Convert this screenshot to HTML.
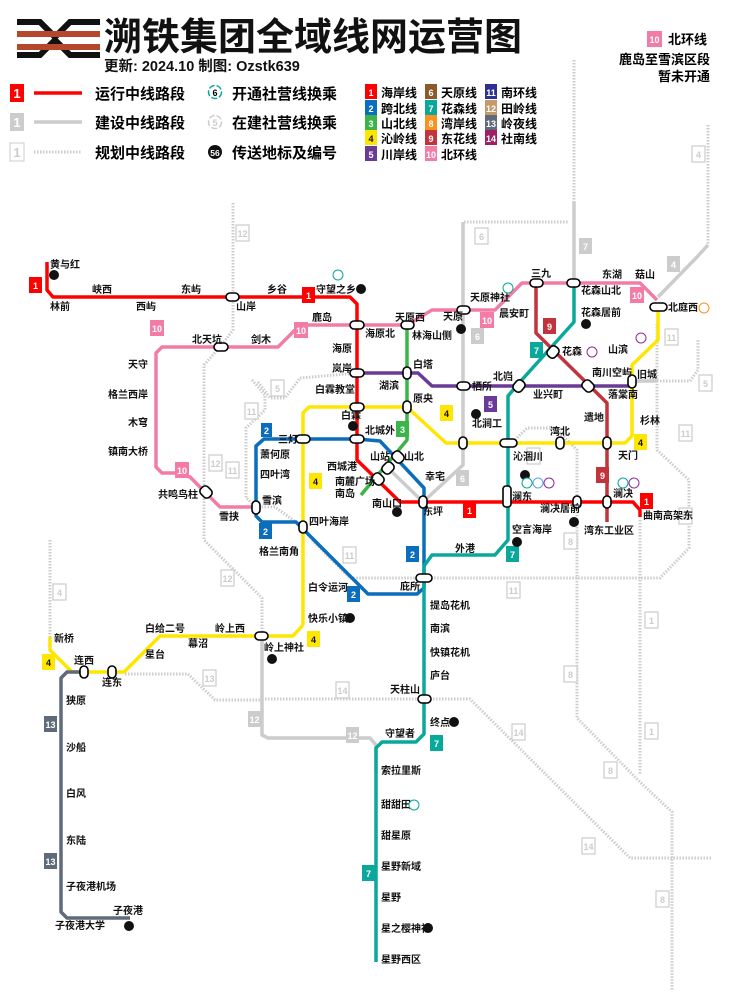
<!DOCTYPE html>
<html><head><meta charset="utf-8"><style>
body{margin:0;background:#fff}
svg{display:block}
text{font-family:"Liberation Sans","Noto Sans CJK SC",sans-serif;font-weight:bold}
.t{font-size:10px;fill:#111}
.r{text-anchor:end}
.m{text-anchor:middle}
.b{font-size:9px;fill:#fff;text-anchor:middle}
.ln{fill:none;stroke-width:3.5;stroke-linejoin:round;stroke-linecap:butt}
.dt{fill:none;stroke:#ccc;stroke-width:3;stroke-dasharray:1.5 1.5}
.cg{fill:none;stroke:#ccc;stroke-width:3.5}
.nd{fill:#fff;stroke:#000;stroke-width:1.6}
.gb{fill:#fff;stroke:#ccc;stroke-width:1.2}
.gt{font-size:9px;fill:#ccc;text-anchor:middle}
</style></head><body>
<svg width="750" height="1000" viewBox="0 0 750 1000" xmlns="http://www.w3.org/2000/svg">
<!-- logo -->
<g>
<path d="M17 22 L40 22 L55 37 L70 22 L100 22" stroke="#111" stroke-width="6" fill="none"/>
<path d="M17 55 L40 55 L55 40 L70 55 L100 55" stroke="#111" stroke-width="6" fill="none"/>
<rect x="17" y="31" width="83" height="6" fill="#b5472a"/>
<rect x="17" y="44" width="83" height="6" fill="#b5472a"/>
</g>
<text x="104" y="50" style="font-size:38px;fill:#111">溯铁集团全域线网运营图</text>
<text x="104" y="71" style="font-size:14.5px;fill:#111">更新: 2024.10 制图: Ozstk639</text>
<!-- legend -->
<rect x="10" y="84" width="14" height="18" fill="#f00"/><text x="17" y="98" class="b" style="font-size:13px">1</text>
<line x1="34" y1="93" x2="82" y2="93" stroke="#f00" stroke-width="3.5"/>
<text x="95" y="99" style="font-size:15px">运行中线路段</text>
<rect x="10" y="113" width="14" height="18" fill="#ccc"/><text x="17" y="127" class="b" style="font-size:13px">1</text>
<line x1="34" y1="122" x2="82" y2="122" stroke="#ccc" stroke-width="3.5"/>
<text x="95" y="128" style="font-size:15px">建设中线路段</text>
<rect x="10" y="143" width="14" height="18" fill="#fff" stroke="#ccc"/><text x="17" y="157" style="font-size:13px;fill:#ccc;text-anchor:middle">1</text>
<line x1="34" y1="152" x2="82" y2="152" class="dt"/>
<text x="95" y="158" style="font-size:15px">规划中线路段</text>
<circle cx="215" cy="92" r="6.5" fill="#fff" stroke="#0aa89a" stroke-width="1.5" stroke-dasharray="6 2"/><text x="215" y="96" class="m" style="font-size:9px">6</text>
<text x="232" y="99" style="font-size:15px">开通社营线换乘</text>
<circle cx="215" cy="122" r="6.5" fill="#fff" stroke="#ccc" stroke-width="1.5" stroke-dasharray="6 2"/><text x="215" y="126" class="m" style="font-size:9px;fill:#ccc">5</text>
<text x="232" y="128" style="font-size:15px">在建社营线换乘</text>
<circle cx="215" cy="152" r="7" fill="#111"/><text x="215" y="156" class="b" style="font-size:8.5px">56</text>
<text x="232" y="158" style="font-size:15px">传送地标及编号</text>
<g style="font-size:12px">
<rect x="365" y="84" width="12" height="15" fill="#f00"/><text x="371" y="96" class="b">1</text><text x="381" y="97" style="font-size:12px">海岸线</text>
<rect x="365" y="100" width="12" height="15" fill="#0a6ebd"/><text x="371" y="112" class="b">2</text><text x="381" y="113" style="font-size:12px">跨北线</text>
<rect x="365" y="115" width="12" height="15" fill="#3bb54a"/><text x="371" y="127" class="b">3</text><text x="381" y="128" style="font-size:12px">山北线</text>
<rect x="365" y="130" width="12" height="15" fill="#ffe600"/><text x="371" y="142" class="b" style="fill:#111">4</text><text x="381" y="143" style="font-size:12px">沁岭线</text>
<rect x="365" y="146" width="12" height="15" fill="#6a3b96"/><text x="371" y="158" class="b">5</text><text x="381" y="159" style="font-size:12px">川岸线</text>
<rect x="425" y="84" width="12" height="15" fill="#8b5a2b"/><text x="431" y="96" class="b">6</text><text x="441" y="97" style="font-size:12px">天原线</text>
<rect x="425" y="100" width="12" height="15" fill="#0aa89a"/><text x="431" y="112" class="b">7</text><text x="441" y="113" style="font-size:12px">花森线</text>
<rect x="425" y="115" width="12" height="15" fill="#f7931e"/><text x="431" y="127" class="b">8</text><text x="441" y="128" style="font-size:12px">湾岸线</text>
<rect x="425" y="130" width="12" height="15" fill="#c1343c"/><text x="431" y="142" class="b">9</text><text x="441" y="143" style="font-size:12px">东花线</text>
<rect x="425" y="146" width="12" height="15" fill="#f37ca6"/><text x="431" y="158" class="b">10</text><text x="441" y="159" style="font-size:12px">北环线</text>
<rect x="485" y="84" width="12" height="15" fill="#2e3192"/><text x="491" y="96" class="b">11</text><text x="501" y="97" style="font-size:12px">南环线</text>
<rect x="485" y="100" width="12" height="15" fill="#c49a6c"/><text x="491" y="112" class="b">12</text><text x="501" y="113" style="font-size:12px">田岭线</text>
<rect x="485" y="115" width="12" height="15" fill="#5f6b7a"/><text x="491" y="127" class="b">13</text><text x="501" y="128" style="font-size:12px">岭夜线</text>
<rect x="485" y="130" width="12" height="15" fill="#9e1f63"/><text x="491" y="142" class="b">14</text><text x="501" y="143" style="font-size:12px">社南线</text>
</g>
<rect x="647" y="31" width="15" height="16" fill="#f37ca6"/><text x="654.5" y="43" class="b">10</text>
<text x="668" y="44" style="font-size:13px">北环线</text>
<text x="710" y="64" class="r" style="font-size:13px">鹿岛至雪滨区段</text>
<text x="710" y="81" class="r" style="font-size:13px">暂未开通</text>

<!-- planned dotted -->
<polyline class="dt" points="233,203 233,330 220,347 204,365 204,540 262,598 262,636"/>
<polyline class="dt" points="574,60 574,202"/>
<polyline class="dt" points="463,290 463,222 568,222"/>
<polyline class="dt" points="708,125 708,245"/>
<polyline class="dt" points="50,540 50,637"/>
<polyline class="dt" points="252,380 265,395 265,410 246,428 246,498 256,507 275,507 300,525"/>
<polyline class="dt" points="258,382 270,398 285,398 300,378 357,373"/>
<polyline class="dt" points="312,540 350,578 660,578 689,548 689,480 657,450 657,322"/>
<polyline class="dt" points="657,381 690,381 698,370 698,340"/>
<polyline class="dt" points="515,440 527,428 555,428 577,450 577,718 640,782 672,812 672,990"/>
<polyline class="dt" points="640,520 640,775"/>
<polyline class="dt" points="265,699 470,699 630,858 712,858"/>
<polyline class="dt" points="125,674 188,674 215,700 262,700"/>
<!-- construction solid gray -->
<polyline class="cg" points="463,222 463,465 423,502"/>
<polyline class="cg" points="388,468 423,502"/>
<polyline class="cg" points="574,202 574,283"/>
<polyline class="cg" points="658,297 697,257 708,245"/>
<polyline class="cg" points="632,381 657,381"/>
<polyline class="cg" points="262,636 262,735 268,738 370,738 376,745 376,773"/>
<!-- operating lines -->
<polyline class="ln" stroke="#f37ca6" points="205,492 190,477 175,473 162,473 156,467 156,353 162,347 278,347 300,325 407,325 432,310 495,310 522,283 640,283 657,300"/>
<polyline class="ln" stroke="#f37ca6" points="205,492 220,507 256,507"/>
<polyline class="ln" stroke="#f00" points="47,262 47,290 53,297 350,297 357,304 357,460 400,502 633,502 640,510 640,517"/>
<polyline class="ln" stroke="#0a6ebd" points="303,439 264,439 256,446 256,516 262,522 296,522 368,594 417,594 424,588 424,578 424,488 380,441 357,439 303,439"/>
<polyline class="ln" stroke="#3bb54a" points="407,325 407,440 361,495"/>
<polyline class="ln" stroke="#6a3b96" points="357,373 418,373 432,386 632,386"/>
<polyline class="ln" stroke="#ffe600" points="303,625 303,413 309,407 407,407 446,443 625,443 632,436 632,365 658,340 658,307"/>
<polyline class="ln" stroke="#ffe600" points="303,625 293,636 160,636 124,672 72,672 50,650 50,637"/>
<polyline class="ln" stroke="#0aa89a" points="574,283 574,322 519,383 508,396 508,540 495,555 432,555 424,566 424,734 416,742 382,742 376,748 376,962"/>
<polyline class="ln" stroke="#c1343c" points="536,283 536,333 607,403 607,522"/>
<polyline class="ln" stroke="#5f6b7a" points="84,672 67,672 61,678 61,912 67,918 130,918"/>

<!-- interchange nodes -->
<g class="nd">
<rect x="226" y="293" width="13" height="8" rx="4"/><rect x="350" y="321" width="14" height="8" rx="4"/><rect x="401" y="321" width="13" height="8" rx="4"/>
<rect x="457" y="306" width="13" height="8" rx="4"/><rect x="530" y="279" width="13" height="8" rx="4"/><rect x="567" y="279" width="13" height="8" rx="4"/>
<rect x="650" y="303" width="17" height="8" rx="4"/><rect x="214" y="343" width="14" height="8" rx="4"/>
<rect x="350" y="369" width="14" height="8" rx="4"/><rect x="403" y="367" width="8" height="12" rx="4"/>
<rect x="457" y="382" width="13" height="8" rx="4"/><rect x="514" y="380" width="10" height="12" rx="4" transform="rotate(40 519 386)"/>
<rect x="583" y="380" width="10" height="12" rx="4" transform="rotate(-45 588 386)"/><rect x="628" y="375" width="8" height="13" rx="4"/>
<rect x="548" y="346" width="10" height="12" rx="4" transform="rotate(40 553 352)"/>
<rect x="350" y="403" width="14" height="8" rx="4"/><rect x="403" y="401" width="8" height="12" rx="4"/>
<rect x="296" y="435" width="14" height="8" rx="4"/><rect x="350" y="435" width="14" height="8" rx="4"/>
<rect x="459" y="437" width="8" height="12" rx="4"/><rect x="500" y="439" width="17" height="8" rx="4"/>
<rect x="556" y="437" width="8" height="12" rx="4"/><rect x="603" y="437" width="8" height="12" rx="4"/>
<rect x="393" y="451" width="10" height="12" rx="4" transform="rotate(-45 398 457)"/><rect x="383" y="462" width="10" height="12" rx="4" transform="rotate(45 388 468)"/>
<rect x="373" y="473" width="10" height="12" rx="4" transform="rotate(-45 378 479)"/>
<rect x="201" y="486" width="10" height="12" rx="4" transform="rotate(-45 206 492)"/>
<rect x="252" y="501" width="8" height="13" rx="4"/><rect x="419" y="496" width="8" height="12" rx="4"/>
<rect x="503" y="486" width="8" height="21" rx="3"/><rect x="573" y="496" width="8" height="12" rx="4"/><rect x="603" y="496" width="8" height="12" rx="4"/>
<rect x="299" y="521" width="8" height="12" rx="4"/><rect x="416" y="574" width="16" height="8" rx="4"/>
<rect x="255" y="632" width="13" height="8" rx="4"/><rect x="80" y="666" width="8" height="12" rx="4"/><rect x="108" y="666" width="8" height="12" rx="4"/>
<rect x="418" y="695" width="13" height="8" rx="4"/>
</g>

<!-- line badges -->
<g>
<rect x="29" y="277" width="13" height="16" fill="#f00"/><text x="35.5" y="289" class="b">1</text>
<rect x="302" y="287" width="13" height="16" fill="#f00"/><text x="308.5" y="299" class="b">1</text>
<rect x="480" y="312" width="14" height="16" fill="#f37ca6"/><text x="487" y="324" class="b">10</text>
<rect x="150" y="320" width="14" height="16" fill="#f37ca6"/><text x="157" y="332" class="b">10</text>
<rect x="294" y="322" width="14" height="16" fill="#f37ca6"/><text x="301" y="334" class="b">10</text>
<rect x="175" y="462" width="14" height="16" fill="#f37ca6"/><text x="182" y="474" class="b">10</text>
<rect x="630" y="287" width="14" height="16" fill="#f37ca6"/><text x="637" y="299" class="b">10</text>
<rect x="543" y="318" width="13" height="16" fill="#c1343c"/><text x="549.5" y="330" class="b">9</text>
<rect x="596" y="467" width="13" height="16" fill="#c1343c"/><text x="602.5" y="479" class="b">9</text>
<rect x="530" y="342" width="13" height="16" fill="#0aa89a"/><text x="536.5" y="354" class="b">7</text>
<rect x="506" y="546" width="13" height="16" fill="#0aa89a"/><text x="512.5" y="558" class="b">7</text>
<rect x="430" y="735" width="13" height="16" fill="#0aa89a"/><text x="436.5" y="747" class="b">7</text>
<rect x="362" y="865" width="13" height="16" fill="#0aa89a"/><text x="368.5" y="877" class="b">7</text>
<rect x="484" y="396" width="13" height="16" fill="#6a3b96"/><text x="490.5" y="408" class="b">5</text>
<rect x="440" y="405" width="13" height="16" fill="#ffe600"/><text x="446.5" y="417" class="b" style="fill:#111">4</text>
<rect x="634" y="434" width="13" height="16" fill="#ffe600"/><text x="640.5" y="446" class="b" style="fill:#111">4</text>
<rect x="309" y="473" width="13" height="16" fill="#ffe600"/><text x="315.5" y="485" class="b" style="fill:#111">4</text>
<rect x="307" y="631" width="13" height="16" fill="#ffe600"/><text x="313.5" y="643" class="b" style="fill:#111">4</text>
<rect x="42" y="654" width="13" height="16" fill="#ffe600"/><text x="48.5" y="666" class="b" style="fill:#111">4</text>
<rect x="396" y="421" width="13" height="16" fill="#3bb54a"/><text x="402.5" y="433" class="b">3</text>
<rect x="261" y="423" width="11" height="14" fill="#0a6ebd"/><text x="266.5" y="434" class="b">2</text>
<rect x="259" y="523" width="13" height="16" fill="#0a6ebd"/><text x="265.5" y="535" class="b">2</text>
<rect x="347" y="586" width="13" height="16" fill="#0a6ebd"/><text x="353.5" y="598" class="b">2</text>
<rect x="406" y="546" width="13" height="16" fill="#0a6ebd"/><text x="412.5" y="558" class="b">2</text>
<rect x="463" y="502" width="13" height="16" fill="#f00"/><text x="469.5" y="514" class="b">1</text>
<rect x="640" y="493" width="13" height="16" fill="#f00"/><text x="646.5" y="505" class="b">1</text>
<rect x="44" y="716" width="13" height="16" fill="#5f6b7a"/><text x="50.5" y="728" class="b">13</text>
<rect x="44" y="853" width="13" height="16" fill="#5f6b7a"/><text x="50.5" y="865" class="b">13</text>
</g>
<!-- gray planned badges -->
<g>
<rect x="236" y="225" width="13" height="16" class="gb"/><text x="242.5" y="237" class="gt">12</text>
<rect x="475" y="228" width="13" height="16" class="gb"/><text x="481.5" y="240" class="gt">6</text>
<rect x="579" y="238" width="13" height="16" fill="#ccc"/><text x="585.5" y="250" class="b">7</text>
<rect x="692" y="146" width="13" height="16" class="gb"/><text x="698.5" y="158" class="gt">4</text>
<rect x="667" y="256" width="13" height="16" fill="#ccc"/><text x="673.5" y="268" class="b">4</text>
<rect x="471" y="328" width="13" height="16" fill="#ccc"/><text x="477.5" y="340" class="b">6</text>
<rect x="456" y="470" width="13" height="16" fill="#ccc"/><text x="462.5" y="482" class="b">6</text>
<rect x="271" y="380" width="13" height="16" class="gb"/><text x="277.5" y="392" class="gt">5</text>
<rect x="245" y="403" width="13" height="16" class="gb"/><text x="251.5" y="415" class="gt">11</text>
<rect x="209" y="455" width="13" height="16" class="gb"/><text x="215.5" y="467" class="gt">12</text>
<rect x="226" y="462" width="13" height="16" class="gb"/><text x="232.5" y="474" class="gt">11</text>
<rect x="527" y="448" width="13" height="16" class="gb"/><text x="533.5" y="460" class="gt">8</text>
<rect x="665" y="329" width="13" height="16" class="gb"/><text x="671.5" y="341" class="gt">11</text>
<rect x="699" y="375" width="13" height="16" class="gb"/><text x="705.5" y="387" class="gt">5</text>
<rect x="679" y="425" width="13" height="16" class="gb"/><text x="685.5" y="437" class="gt">11</text>
<rect x="343" y="547" width="13" height="16" class="gb"/><text x="349.5" y="559" class="gt">11</text>
<rect x="221" y="570" width="13" height="16" class="gb"/><text x="227.5" y="582" class="gt">12</text>
<rect x="564" y="533" width="13" height="16" class="gb"/><text x="570.5" y="545" class="gt">8</text>
<rect x="507" y="582" width="13" height="16" class="gb"/><text x="513.5" y="594" class="gt">11</text>
<rect x="679" y="508" width="13" height="16" class="gb"/><text x="685.5" y="520" class="gt">11</text>
<rect x="645" y="612" width="13" height="16" class="gb"/><text x="651.5" y="624" class="gt">1</text>
<rect x="564" y="666" width="13" height="16" class="gb"/><text x="570.5" y="678" class="gt">8</text>
<rect x="53" y="584" width="13" height="16" class="gb"/><text x="59.5" y="596" class="gt">4</text>
<rect x="203" y="670" width="13" height="16" class="gb"/><text x="209.5" y="682" class="gt">13</text>
<rect x="336" y="682" width="13" height="16" class="gb"/><text x="342.5" y="694" class="gt">14</text>
<rect x="248" y="711" width="13" height="16" fill="#ccc"/><text x="254.5" y="723" class="b">12</text>
<rect x="346" y="727" width="13" height="16" fill="#ccc"/><text x="352.5" y="739" class="b">12</text>
<rect x="512" y="724" width="13" height="16" class="gb"/><text x="518.5" y="736" class="gt">14</text>
<rect x="645" y="723" width="13" height="16" class="gb"/><text x="651.5" y="735" class="gt">1</text>
<rect x="604" y="762" width="13" height="16" class="gb"/><text x="610.5" y="774" class="gt">8</text>
<rect x="582" y="838" width="13" height="16" class="gb"/><text x="588.5" y="850" class="gt">14</text>
<rect x="656" y="891" width="13" height="16" class="gb"/><text x="662.5" y="903" class="gt">8</text>
</g>

<!-- station labels -->
<g class="t">
<text x="50" y="268">黄与红</text><circle cx="54" cy="275" r="5" fill="#111"/>
<text x="50" y="310">林前</text><text x="102" y="293" class="m">峡西</text><text x="146" y="310" class="m">西屿</text>
<text x="191" y="293" class="m">东屿</text><text x="246" y="310" class="m">山岸</text><text x="277" y="293" class="m">乡谷</text>
<text x="316" y="293">守望之乡</text><circle cx="361" cy="289" r="5" fill="#111"/><circle cx="338" cy="275" r="5" fill="#fff" stroke="#0aa89a"/>
<text x="322" y="321" class="m">鹿岛</text><text x="365" y="337">海原北</text>
<text x="410" y="321" class="m">天原西</text><text x="453" y="320" class="m">天原</text><circle cx="461" cy="329" r="5" fill="#111"/>
<text x="470" y="301">天原神社</text><circle cx="508" cy="288" r="5" fill="#fff" stroke="#0aa89a"/>
<text x="541" y="277" class="m">三九</text><text x="612" y="278" class="m">东湖</text><text x="635" y="278">菇山</text>
<text x="581" y="294">花森山北</text><text x="581" y="316">花森居前</text><circle cx="586" cy="324" r="5" fill="#111"/>
<text x="529" y="317" class="r">晨安町</text><text x="668" y="311">北庭西</text><circle cx="704" cy="308" r="5" fill="#fff" stroke="#f7931e"/>
<text x="207" y="343" class="m">北天坑</text><text x="261" y="343" class="m">剑木</text>
<text x="148" y="368" class="r">天守</text><text x="148" y="398" class="r">格兰西岸</text><text x="148" y="426" class="r">木穹</text><text x="148" y="455" class="r">镇南大桥</text>
<text x="198" y="498" class="r">共鸣鸟柱</text><text x="229" y="520" class="m">雪挟</text><text x="262" y="504">雪滨</text>
<text x="352" y="352" class="r">海原</text><text x="352" y="372" class="r">岚岸</text><text x="355" y="393" class="r">白霖教堂</text>
<text x="389" y="389" class="m">湖滨</text><text x="413" y="368">白塔</text><text x="412" y="339">林海山侧</text>
<text x="413" y="402">原央</text><text x="341" y="419">白霖</text><circle cx="353" cy="426" r="5" fill="#111"/>
<text x="298" y="443" class="r">三灯</text><text x="365" y="434">北城外</text>
<text x="260" y="458">萧何原</text><text x="260" y="478">四叶湾</text>
<text x="357" y="470" class="r">西城港</text><text x="375" y="485" class="r">南麓广场</text><text x="355" y="497" class="r">南岛</text>
<text x="370" y="460">山站</text><text x="404" y="460">山北</text><text x="425" y="480">幸宅</text>
<text x="372" y="507">南山口</text><circle cx="397" cy="512" r="5" fill="#111"/><text x="423" y="515">东坪</text>
<text x="472" y="390">栖所</text><text x="513" y="380" class="r">北岿</text><text x="548" y="398" class="m">业兴町</text>
<text x="592" y="376">南川空屿</text><text x="608" y="398">落棠南</text><text x="637" y="378">旧城</text>
<text x="628" y="353" class="r">山滨</text><circle cx="641" cy="338" r="5" fill="#fff" stroke="#8e2a9a"/>
<text x="562" y="355">花森</text><circle cx="592" cy="352" r="5" fill="#fff" stroke="#8e2a9a"/>
<text x="604" y="421" class="r">遗地</text><text x="640" y="424">杉林</text>
<text x="472" y="427">北涧工</text><circle cx="476" cy="414" r="5" fill="#111"/>
<text x="513" y="460">沁涸川</text><circle cx="525" cy="475" r="5" fill="#111"/>
<text x="560" y="435" class="m">湾北</text><text x="618" y="459">天门</text>
<text x="512" y="500">澜东</text>
<text x="580" y="512" class="r">澜决居前</text><circle cx="574" cy="522" r="5" fill="#111"/>
<text x="613" y="497">澜决</text><circle cx="623" cy="483" r="5" fill="#fff" stroke="#0aa89a"/><circle cx="634" cy="483" r="5" fill="#fff" stroke="#8e2a9a"/>
<circle cx="527" cy="483" r="5" fill="#fff" stroke="#0aa89a"/><circle cx="538" cy="483" r="5" fill="#fff" stroke="#5aa0e6"/><circle cx="549" cy="483" r="5" fill="#fff" stroke="#8e2a9a"/>
<text x="609" y="534" class="m">湾东工业区</text><text x="643" y="519">曲南高架东</text>
<text x="512" y="533">空言海岸</text><circle cx="517" cy="542" r="5" fill="#111"/>
<text x="309" y="525">四叶海岸</text><text x="299" y="555" class="r">格兰南角</text>
<text x="465" y="552" class="m">外港</text><text x="420" y="590" class="r">庇所</text>
<text x="308" y="591">白令运河</text><text x="308" y="622">快乐小镇</text><circle cx="350" cy="618" r="5" fill="#111"/>
<text x="430" y="609">提岛花机</text><text x="430" y="632">南滨</text><text x="430" y="656">快镇花机</text><text x="430" y="679">庐台</text>
<text x="420" y="693" class="r">天柱山</text><text x="430" y="726">终点</text><circle cx="454" cy="722" r="5" fill="#111"/>
<text x="400" y="737" class="m">守望者</text><text x="381" y="774">索拉里斯</text>
<text x="381" y="808">甜甜田</text><circle cx="414" cy="805" r="5" fill="#fff" stroke="#0aa89a"/>
<text x="381" y="839">甜星原</text><text x="381" y="870">星野新域</text><text x="381" y="901">星野</text>
<text x="381" y="932">星之樱神社</text><circle cx="428" cy="928" r="5" fill="#111"/><text x="381" y="963">星野西区</text>
<text x="264" y="651">岭上神社</text><circle cx="272" cy="659" r="5" fill="#111"/>
<text x="230" y="632" class="m">岭上西</text><text x="198" y="647" class="m">幕沼</text><text x="165" y="632" class="m">白给二号</text><text x="145" y="658">星台</text>
<text x="54" y="642">新桥</text><text x="84" y="664" class="m">连西</text><text x="112" y="686" class="m">连东</text>
<text x="66" y="704">狭原</text><text x="66" y="751">沙船</text><text x="66" y="797">白风</text><text x="66" y="844">东陆</text><text x="66" y="890">子夜港机场</text>
<text x="128" y="914" class="m">子夜港</text><text x="80" y="929" class="m">子夜港大学</text><circle cx="129" cy="926" r="5" fill="#111"/>
</g>
</svg>
</body></html>
